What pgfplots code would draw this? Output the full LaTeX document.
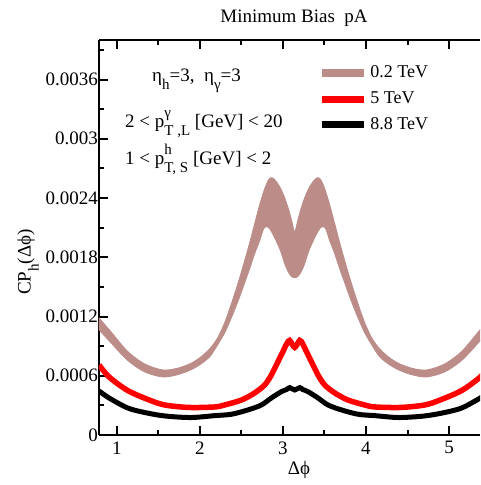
\documentclass[border=0pt]{standalone}
\usepackage{fontspec}
\setmainfont{Liberation Serif}
\usepackage{pgfplots}
\pgfplotsset{compat=1.18}
\usepgfplotslibrary{fillbetween}
\definecolor{brownc}{RGB}{188,140,136}
\newcommand{\mysub}[1]{\raisebox{-0.42em}{\fontsize{15}{15}\selectfont #1}}
\newcommand{\mysup}[1]{\raisebox{0.55em}{\fontsize{15}{15}\selectfont #1}}
\begin{document}
\fontsize{19}{22}\selectfont
\begin{tikzpicture}
\begin{axis}[
  name=ax, at={(0pt,0pt)}, anchor=south west,
  scale only axis, width=381pt, height=395pt,
  xmin=0.7854, xmax=5.373, ymin=0, ymax=0.004,
  scaled y ticks=false,
  axis x line=box, axis y line=left,
  x axis line style={-}, y axis line style={-},
  axis line style={line width=2.5pt},
  xtick={1,2,3,4,5}, xticklabels={1,2,3,4,5},
  minor xtick={1.5,2.5,3.5,4.5},
  ytick={0,0.0006,0.0012,0.0018,0.0024,0.003,0.0036},
  yticklabels={0,0.0006,0.0012,0.0018,0.0024,0.003,0.0036},
  minor ytick={0.0003,0.0009,0.0015,0.0021,0.0027,0.0033,0.0039},
  tick align=inside,
  major tick length=9pt, minor tick length=5pt,
  every tick/.style={line width=2pt, black},
  tick label style={font=\fontsize{19}{22}\selectfont},
  yticklabel style={inner xsep=1pt},
  legend style={at={(0.575,0.94)}, anchor=north west, draw=none, fill=none,
    font=\fontsize{18}{20}\selectfont, row sep=7pt, inner sep=0pt},
  legend cell align=left,
  legend image code/.code={\draw[#1] (0pt,0pt) -- (42pt,0pt);},
]
\addplot[draw=none, name path=up, smooth, tension=0.5, forget plot] table {
0.7854 0.001186
0.9247 0.001050
1.1296 0.000847
1.3344 0.000720
1.5512 0.000659
1.7199 0.000674
1.8765 0.000720
1.9970 0.000781
2.1175 0.000872
2.2139 0.000984
2.2982 0.001136
2.3585 0.001278
2.4187 0.001430
2.4789 0.001592
2.5392 0.001765
2.5994 0.001947
2.6597 0.002140
2.7199 0.002332
2.7802 0.002495
2.8283 0.002586
2.8645 0.002606
2.9006 0.002586
2.9609 0.002515
3.0211 0.002403
3.0693 0.002282
3.1055 0.002170
3.1416 0.002059
3.1777 0.002170
3.2139 0.002282
3.2621 0.002403
3.3223 0.002515
3.3826 0.002586
3.4187 0.002606
3.4549 0.002586
3.5030 0.002495
3.5633 0.002332
3.6235 0.002140
3.6838 0.001947
3.7440 0.001765
3.8043 0.001592
3.8645 0.001430
3.9247 0.001278
3.9850 0.001136
4.0693 0.000984
4.1657 0.000872
4.2862 0.000781
4.4067 0.000720
4.5633 0.000674
4.7320 0.000659
4.9488 0.000720
5.1536 0.000847
5.3585 0.001050
5.4978 0.001186
};
\addplot[draw=none, name path=lo, smooth, tension=0.5, forget plot] table {
0.7854 0.001065
0.9247 0.000938
1.1296 0.000756
1.3344 0.000639
1.5512 0.000588
1.7199 0.000608
1.8765 0.000654
1.9970 0.000710
2.1175 0.000791
2.2139 0.000913
2.2982 0.001034
2.3585 0.001146
2.4187 0.001268
2.4789 0.001399
2.5392 0.001541
2.5994 0.001683
2.6597 0.001836
2.7199 0.001967
2.7681 0.002089
2.8043 0.002109
2.8404 0.002089
2.9006 0.001998
2.9609 0.001886
2.9910 0.001815
3.0211 0.001734
3.0633 0.001653
3.1055 0.001602
3.1416 0.001592
3.1777 0.001602
3.2199 0.001653
3.2621 0.001734
3.2922 0.001815
3.3223 0.001886
3.3826 0.001998
3.4428 0.002089
3.4789 0.002109
3.5151 0.002089
3.5633 0.001967
3.6235 0.001836
3.6838 0.001683
3.7440 0.001541
3.8043 0.001399
3.8645 0.001268
3.9247 0.001146
3.9850 0.001034
4.0693 0.000913
4.1657 0.000791
4.2862 0.000710
4.4067 0.000654
4.5633 0.000608
4.7320 0.000588
4.9488 0.000639
5.1536 0.000756
5.3585 0.000938
5.4978 0.001065
};
\addplot[fill=brownc, draw=brownc, line width=0.8pt, forget plot] fill between[of=up and lo];
\addplot[red, line width=5.5pt, smooth, tension=0.5, forget plot] table {
0.7854 0.000710
0.9066 0.000588
1.1296 0.000451
1.3886 0.000355
1.5756 0.000304
1.8646 0.000279
2.1776 0.000284
2.2986 0.000304
2.5026 0.000355
2.6596 0.000426
2.7806 0.000507
2.8606 0.000608
2.9406 0.000743
3.0006 0.000845
3.0452 0.000923
3.0814 0.000958
3.1416 0.000887
3.2018 0.000958
3.2380 0.000923
3.2826 0.000845
3.3426 0.000743
3.4226 0.000608
3.5026 0.000507
3.6236 0.000426
3.7806 0.000355
3.9846 0.000304
4.1056 0.000284
4.4186 0.000279
4.7076 0.000304
4.8946 0.000355
5.1536 0.000451
5.3766 0.000588
5.4978 0.000710
};
\addplot[black, line width=5pt, smooth, tension=0.5, forget plot] table {
0.7854 0.000446
0.9066 0.000375
1.1296 0.000274
1.3346 0.000228
1.5756 0.000193
1.8886 0.000177
2.1776 0.000196
2.3786 0.000210
2.5786 0.000254
2.7406 0.000304
2.8606 0.000375
2.9816 0.000439
3.0452 0.000461
3.0814 0.000480
3.1416 0.000456
3.2018 0.000480
3.2380 0.000461
3.3016 0.000439
3.4226 0.000375
3.5426 0.000304
3.7046 0.000254
3.9046 0.000210
4.1056 0.000196
4.3946 0.000177
4.7076 0.000193
4.9486 0.000228
5.1536 0.000274
5.3766 0.000375
5.4978 0.000446
};
\addlegendimage{brownc, line width=8pt}
\addlegendentry{0.2 TeV}
\addlegendimage{red, line width=7pt}
\addlegendentry{5 TeV}
\addlegendimage{black, line width=7pt}
\addlegendentry{8.8 TeV}
\end{axis}
\node at (195pt,417pt) {Minimum Bias~~pA};
\node at (200pt,-35pt) {Δϕ};
\node[rotate=90] at (-71pt,173pt) {CP\mysub{h}(Δϕ)};
\node[anchor=base west, inner sep=0pt] at (53pt,353pt) {η\mysub{h}=3,~~η\mysub{γ}=3};
\node[anchor=base west, inner sep=0pt] at (26pt,307pt) {2 < p\rlap{\mysup{γ}}\mysub{T ,L} [GeV] < 20};
\node[anchor=base west, inner sep=0pt] at (26pt,270pt) {1 < p\rlap{\mysup{h}}\mysub{T, S} [GeV] < 2};
\pgfresetboundingbox
\path (-99pt,-50pt) rectangle (381pt,435pt);
\end{tikzpicture}
\end{document}
